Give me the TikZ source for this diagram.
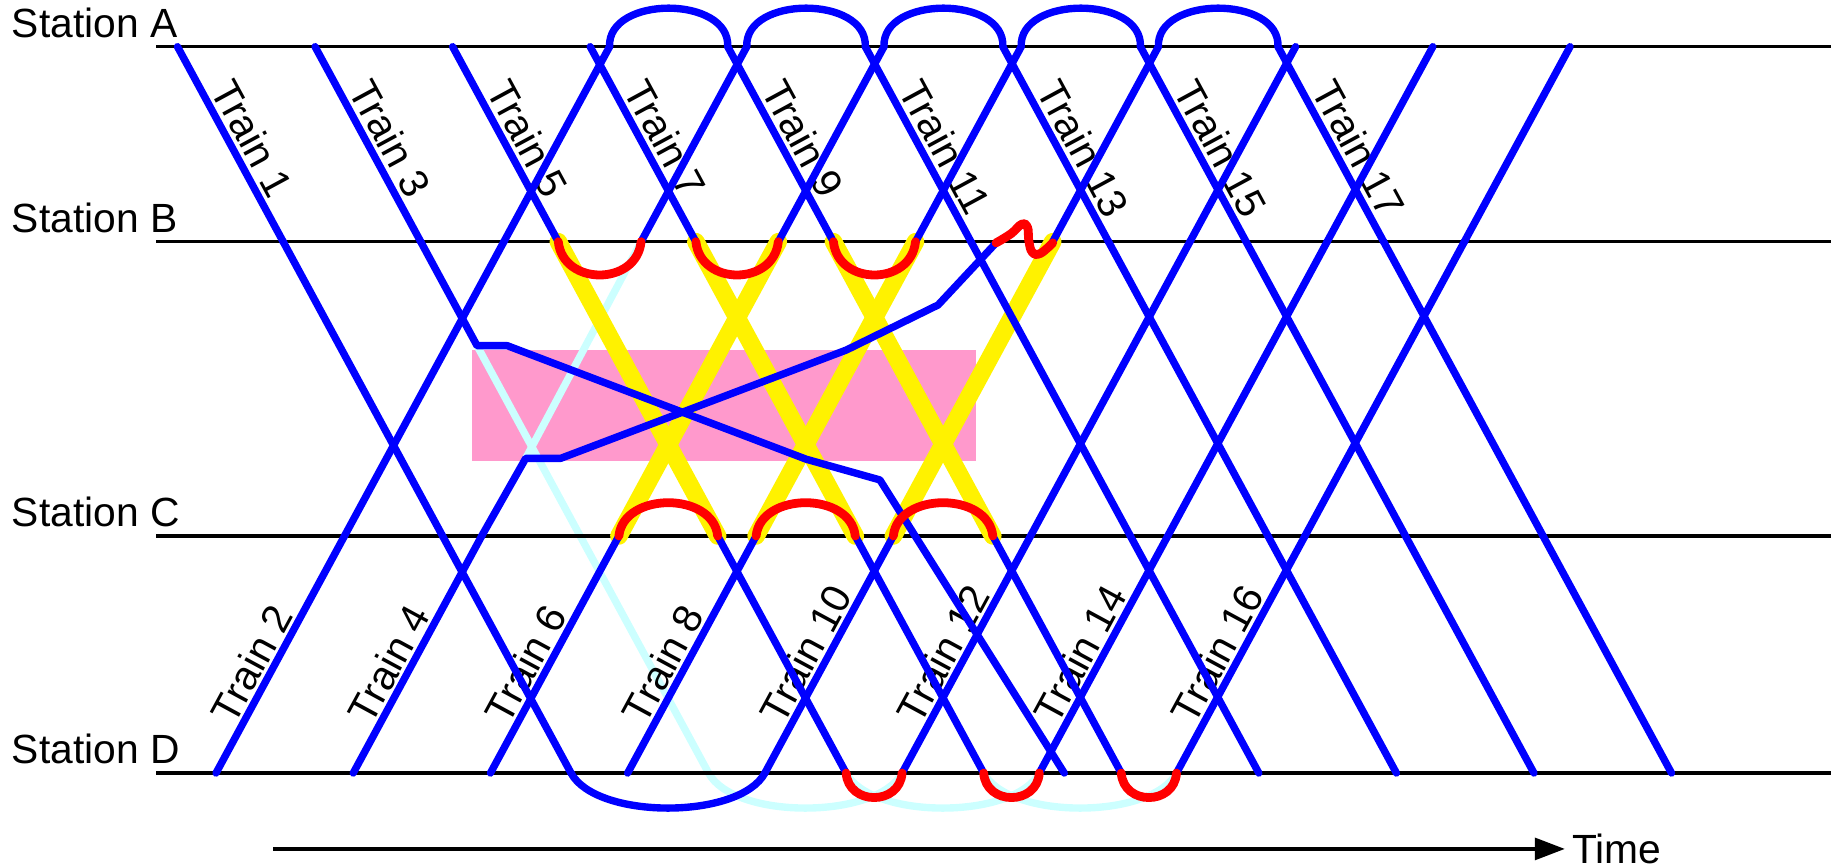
\documentclass[tikz,border=0pt]{standalone}
\usepackage{fontspec}
\setmainfont{Liberation Sans}
\usepackage{xcolor}
\usetikzlibrary{arrows.meta, calc}

\definecolor{closure}{HTML}{FF99CC}
\definecolor{origpath}{HTML}{CCFFFF}

\begin{document}
\begin{tikzpicture}[
  x=0.011677cm, y=-0.011677cm,
  font=\fontsize{11.6}{13}\selectfont,
  stationline/.style={black, line width=0.9pt},
  service/.style={blue, line width=2.1pt, line cap=round, line join=round},
  cancelled/.style={yellow, line width=5pt, line cap=round},
  planned/.style={origpath, line width=2.1pt, line cap=round, line join=round},
  turnback/.style={red, line width=2.5pt, line cap=round},
  stationlabel/.style={anchor=base west, inner sep=0pt},
  downlabel/.style={anchor=west, rotate=-61.55, inner sep=1pt},
  uplabel/.style={anchor=west, rotate=61.55, inner sep=1pt},
  timeaxis/.style={-{Triangle[length=3mm, width=2.2mm]}, line width=0.9pt}
]
\useasboundingbox (0,0) rectangle (1568,742);

% closed section between B and C
\fill[closure] (404,300) rectangle (836,395);

% planned paths that are not run
\draw[planned] (408.5,296) -- (606.8,662)
  .. controls +(21.6,40) and +(-21.6,40) .. (772.5,662);
\draw[planned] (450.2,392.5) -- (549,207);
\draw[planned] (724.6,662) .. controls +(21.6,40) and +(-21.6,40) .. (890,662);
\draw[planned] (842.4,662) .. controls +(21.6,40) and +(-21.6,40) .. (1007.5,662);

% stations
\foreach \st/\y in {A/40, B/207, C/459, D/662}{
  \draw[stationline] (134,\y) -- (1568,\y);
  \node[stationlabel] (st\st) at (9.5,\y-8) {Station \st};
}

% train names
\foreach \n [count=\k from 0] in {1,3,...,17}
  \node[downlabel] (train\n) at ({189+117.8*\k},68) {Train \n};
\foreach \n [count=\k from 0] in {2,4,...,16}
  \node[uplabel] (train\n) at ({188+117.5*\k},619) {Train \n};

% cancelled between B and C
\foreach \k in {2,3,4}{
  \draw[cancelled] ({242.5+117.8*\k},207) -- ({379+117.8*\k},459);
  \draw[cancelled] ({295+117.5*\k},459) -- ({431.5+117.5*\k},207);
}

% down trains
\foreach \k in {0,...,8}
  \draw[service] ({152+117.8*\k},40) -- ({242.5+117.8*\k},207);
\foreach \k in {0,5,6,7,8}
  \draw[service] ({242.5+117.8*\k},207) -- ({379+117.8*\k},459);
\foreach \k in {0,2,3,4,5,6,7,8}
  \draw[service] ({379+117.8*\k},459) -- ({489+117.8*\k},662);

% up trains
\foreach \k in {0,...,7}{
  \draw[service] ({185+117.5*\k},662) -- ({295+117.5*\k},459);
  \draw[service] ({431.5+117.5*\k},207) -- ({522+117.5*\k},40);
}
\foreach \k in {0,5,6,7}
  \draw[service] ({295+117.5*\k},459) -- ({431.5+117.5*\k},207);

% turn-rounds at A and D
\foreach \k in {0,...,4}
  \draw[service] ({522+117.5*\k},40) .. controls +(-2,-44) and +(2,-44) .. ({623.2+117.8*\k},40);
\draw[service] (489,662) .. controls +(21.6,40) and +(-21.6,40) .. (655,662);

% diverted Train 3 and Train 4
\draw[service] (360.3,207) -- (408.5,296) -- (434.3,296) -- (690.5,393.3)
  -- (753.5,411) -- (911.4,662);
\draw[service] (412.5,459) -- (450.2,392.5) -- (480.2,392.5) -- (724.9,299.7)
  -- (803.3,261.2) -- (853,208);

% new turn-backs
\foreach \k in {2,3,4}{
  \draw[turnback] ({242.5+117.8*\k},207) .. controls +(4,38) and +(-4,38) .. ({314+117.5*\k},207);
  \draw[turnback] ({295+117.5*\k},459) .. controls +(4,-38) and +(-4,-38) .. ({379+117.8*\k},459);
  \draw[turnback] ({489+117.8*\k},662) .. controls +(2,28) and +(-2,28) .. ({537.5+117.5*\k},662);
}
\draw[turnback] plot[smooth, tension=0.7] coordinates
  {(853,208) (866,200) (875,192) (880,195) (881,206) (884,216) (891,217) (901.5,208)};

% time axis
\node[anchor=west, inner xsep=2pt, inner ysep=0pt] (time) at (1340,727) {Time};
\coordinate (t0) at (234,727);
\draw[timeaxis] (t0) -- (time.west);
\end{tikzpicture}
\end{document}
